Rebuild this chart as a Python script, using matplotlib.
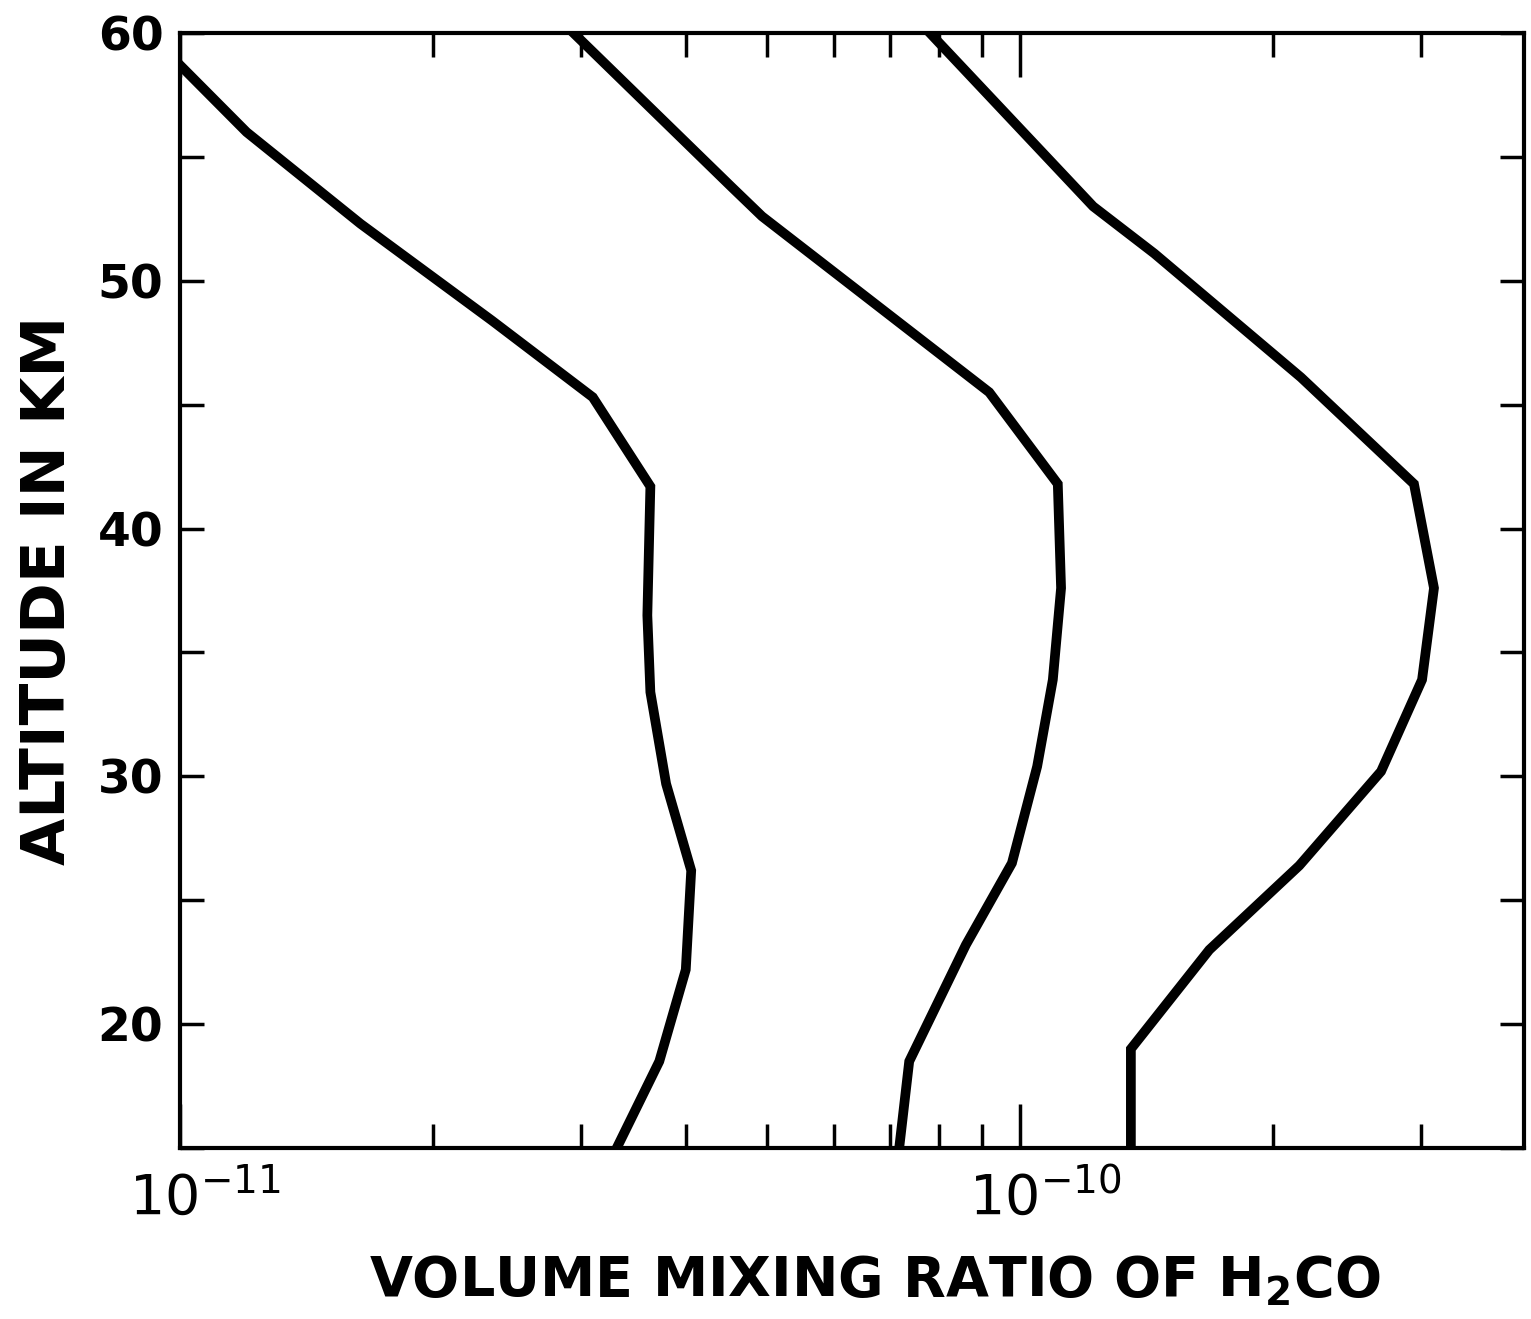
import matplotlib
matplotlib.use("Agg")
import matplotlib.pyplot as plt
import matplotlib.transforms as mtransforms
from matplotlib.ticker import LogLocator, NullFormatter, MultipleLocator

# altitude (km) and H2CO mixing ratio for the three profiles
alt_1 = [58.7, 56.0, 52.3, 48.4, 45.3, 41.7, 36.5, 33.4, 29.7, 26.2, 22.2, 18.5, 15.0]
vmr_1 = [1.00e-11, 1.20e-11, 1.64e-11, 2.35e-11, 3.10e-11, 3.63e-11, 3.60e-11,
         3.63e-11, 3.79e-11, 4.06e-11, 4.00e-11, 3.72e-11, 3.31e-11]

alt_2 = [60.0, 53.8, 52.6, 45.5, 41.8, 37.6, 33.9, 30.4, 26.5, 23.2, 18.5, 15.0]
vmr_2 = [2.94e-11, 4.53e-11, 4.93e-11, 9.19e-11, 1.109e-10, 1.119e-10,
         1.094e-10, 1.048e-10, 9.78e-11, 8.62e-11, 7.38e-11, 7.18e-11]

alt_3 = [60.0, 53.0, 51.1, 46.1, 41.8, 37.6, 33.9, 30.2, 26.4, 23.0, 19.0, 15.0]
vmr_3 = [7.81e-11, 1.222e-10, 1.445e-10, 2.16e-10, 2.944e-10, 3.11e-10, 3.01e-10,
         2.69e-10, 2.15e-10, 1.68e-10, 1.355e-10, 1.355e-10]

x_ticks = [1e-11, 1e-10]
x_ticklabels = [r"$\mathdefault{10^{-11}}$", r"$\mathdefault{10^{-10}}$"]
y_ticks = [20, 30, 40, 50, 60]

fig = plt.figure(figsize=(15.31, 13.19), dpi=100)
ax = fig.add_axes([0.1176, 0.1296, 0.8778, 0.8454])

for vmr, alt in [(vmr_1, alt_1), (vmr_2, alt_2), (vmr_3, alt_3)]:
    ax.plot(vmr, alt, color="black", lw=7, solid_joinstyle="miter")

ax.set_xscale("log")
ax.set_xlim(1e-11, 3.98e-10)
ax.set_ylim(15, 60)

ax.set_xticks(x_ticks)
ax.set_xticklabels(x_ticklabels)
ax.xaxis.set_minor_locator(LogLocator(base=10, subs=range(2, 10)))
ax.xaxis.set_minor_formatter(NullFormatter())
ax.set_yticks(y_ticks)
ax.yaxis.set_minor_locator(MultipleLocator(5))

ax.tick_params(axis="x", which="major", direction="in", length=32, width=2.5,
               top=True, labelsize=40, pad=16)
ax.tick_params(axis="x", which="minor", direction="in", length=17, width=2.5, top=True)
ax.tick_params(axis="y", which="both", direction="in", length=17, width=2.5,
               right=True, labelsize=34, pad=12)
for lab in ax.get_xticklabels():
    lab.set_transform(lab.get_transform() +
                      mtransforms.ScaledTranslation(0.25, 0, fig.dpi_scale_trans))
for lab in ax.get_yticklabels():
    lab.set_fontweight("bold")

for sp in ax.spines.values():
    sp.set_linewidth(3)

ax.set_xlabel(r"VOLUME MIXING RATIO OF H$_\mathdefault{2}$CO", fontsize=40,
              fontweight="bold", labelpad=12)
ax.xaxis.set_label_coords(0.517, -0.095)
ax.set_ylabel("ALTITUDE IN KM", fontsize=44, fontweight="bold", labelpad=14)

fig.savefig("out.png", dpi=100)
